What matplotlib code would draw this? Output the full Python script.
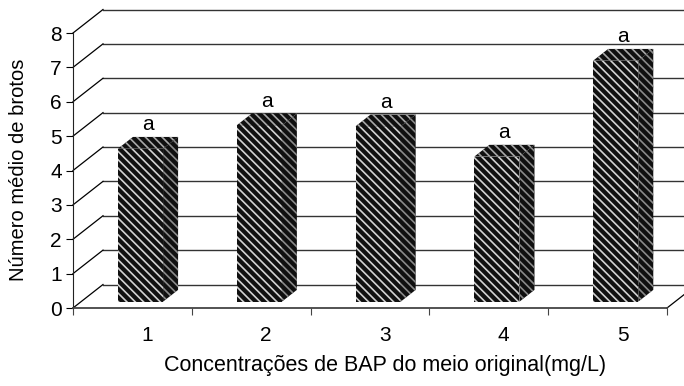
import matplotlib
matplotlib.use("Agg")
import matplotlib.pyplot as plt
from matplotlib.patches import Rectangle, Polygon

plt.rcParams['font.family'] = ['Liberation Sans', 'DejaVu Sans']
plt.rcParams['hatch.linewidth'] = 1.2

categories = ['1', '2', '3', '4', '5']
values = [4.45, 5.13, 5.10, 4.22, 7.01]
letters = ['a', 'a', 'a', 'a', 'a']
xlabel = 'Concentrações de BAP do meio original(mg/L)'
ylabel = 'Número médio de brotos'

W, H = 684, 386
fs = 15
fig = plt.figure(figsize=(W / 100, H / 100), dpi=100)
ax = fig.add_axes([73 / W, 78 / H, 594 / W, 275 / H])
n = len(categories)
ax.set_xlim(0.5, n + 0.5)
ax.set_ylim(0, 8)

# depth of the 3d box in data units
DX = 30 / (594 / n)
DY = 23.5 / (275 / 8)
f0, f1 = 0.27, 0.77
bw = 0.38

for s in ['top', 'right']:
    ax.spines[s].set_visible(False)
ax.spines['left'].set_color('#222222')
ax.spines['bottom'].set_color('#444444')
ax.spines['bottom'].set_linewidth(1.3)

ax.set_yticks(range(9))
ax.tick_params(axis='y', direction='out', length=5, labelsize=fs, pad=3, colors='black')
ax.set_xticks([i + 0.5 for i in range(n + 1)])
ax.set_xticklabels([])
ax.tick_params(axis='x', direction='out', length=5, color='#444444')

# walls: back gridlines, left wall diagonals, floor edge
for k in range(9):
    ax.plot([0.5 + DX, n + 0.5 + DX], [k + DY, k + DY], color='#333333', lw=1.0, clip_on=False, zorder=1)
    ax.plot([0.5, 0.5 + DX], [k, k + DY], color='black', lw=0.9, clip_on=False, zorder=1)
ax.plot([n + 0.5, n + 0.5 + DX], [0, DY], color='black', lw=0.9, clip_on=False, zorder=1)

hatch = '\\\\\\\\'
for i, v in enumerate(values):
    c = i + 1
    xl = c - bw / 2
    xr = c + bw / 2
    front = Rectangle((xl + f0 * DX, f0 * DY), bw, v, facecolor='#101010',
                      edgecolor='#d2d2d2', lw=0, hatch=hatch, zorder=3)
    top = Polygon([(xl + f0 * DX, v + f0 * DY), (xr + f0 * DX, v + f0 * DY),
                   (xr + f1 * DX, v + f1 * DY), (xl + f1 * DX, v + f1 * DY)],
                  closed=True, facecolor='#101010', edgecolor='#a8a8a8', lw=0, hatch=hatch, zorder=3)
    side = Polygon([(xr + f0 * DX, f0 * DY), (xr + f1 * DX, f1 * DY),
                    (xr + f1 * DX, v + f1 * DY), (xr + f0 * DX, v + f0 * DY)],
                   closed=True, facecolor='#101010', edgecolor='#8a8a8a', lw=0, hatch=hatch, zorder=3)
    for p in (front, top, side):
        ax.add_patch(p)
        outline = Polygon(p.get_verts(), closed=True, fill=False, edgecolor='black', lw=1.2, zorder=4)
        ax.add_patch(outline)
    ax.annotate(letters[i], (c + 0.5 * (f0 + f1) * DX, v + f1 * DY), xytext=(0, 2),
                textcoords='offset points', ha='center', va='bottom', fontsize=fs)
    ax.annotate(categories[i], (c + 0.5 * DX, 0), xytext=(0, -13), textcoords='offset points',
                ha='center', va='top', fontsize=fs)

fig.text(385 / W, 1 - 366 / H, xlabel, ha='center', va='center', fontsize=15.5)
fig.text(19 / W, 1 - 170 / H, ylabel, ha='center', va='center', rotation=90, fontsize=14.5)

fig.savefig('out.png', dpi=100)
